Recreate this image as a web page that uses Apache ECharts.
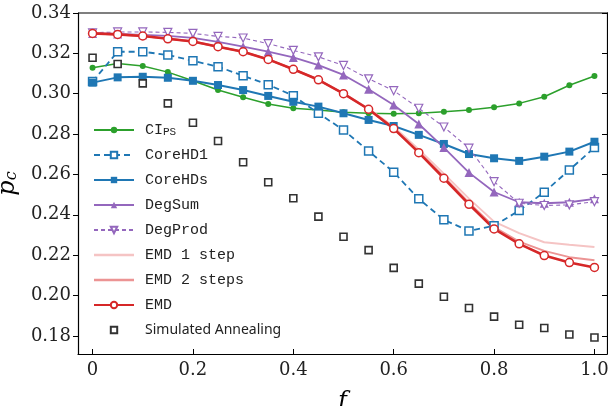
<!DOCTYPE html>
<html>
<head>
<meta charset="utf-8">
<script src="https://cdn.jsdelivr.net/npm/echarts@6/dist/echarts.min.js"></script>
<style>html,body{margin:0;padding:0;background:#fff}#c{width:608px;height:406px}</style>
</head>
<body>
<div id="c"></div>
<script>
var fValues = [0,0.05,0.1,0.15,0.2,0.25,0.3,0.35,0.4,0.45,0.5,0.55,0.6,0.65,0.7,0.75,0.8,0.85,0.9,0.95,1.0];
var xTicks = [0,0.2,0.4,0.6,0.8,1.0];
var yTicks = [0.18,0.20,0.22,0.24,0.26,0.28,0.30,0.32,0.34];

var ciPS     = [0.3129,0.3150,0.3137,0.3107,0.3064,0.3018,0.2982,0.2949,0.2928,0.2919,0.2908,0.2903,0.2901,0.2903,0.2911,0.2919,0.2933,0.2952,0.2985,0.3042,0.3088];
var coreHD1  = [0.3060,0.3208,0.3208,0.3192,0.3163,0.3134,0.3089,0.3045,0.2990,0.2903,0.2820,0.2716,0.2611,0.2479,0.2375,0.2320,0.2345,0.2421,0.2512,0.2622,0.2733];
var coreHDs  = [0.3055,0.3081,0.3084,0.3079,0.3064,0.3043,0.3018,0.2989,0.2960,0.2936,0.2903,0.2870,0.2840,0.2796,0.2751,0.2701,0.2680,0.2667,0.2688,0.2713,0.2762];
var degSum   = [0.3299,0.3296,0.3292,0.3287,0.3277,0.3257,0.3233,0.3208,0.3180,0.3142,0.3093,0.3022,0.2944,0.2850,0.2733,0.2609,0.2513,0.2462,0.2457,0.2462,0.2479];
var degProd  = [0.3302,0.3306,0.3306,0.3304,0.3299,0.3284,0.3276,0.3248,0.3215,0.3183,0.3140,0.3074,0.3015,0.2928,0.2835,0.2730,0.2564,0.2457,0.2446,0.2449,0.2465];
var emd1     = [0.3299,0.3294,0.3286,0.3272,0.3259,0.3233,0.3208,0.3170,0.3121,0.3070,0.3002,0.2926,0.2836,0.2724,0.2604,0.2480,0.2366,0.2309,0.2264,0.2251,0.2240];
var emd2     = [0.3299,0.3294,0.3286,0.3272,0.3259,0.3233,0.3208,0.3170,0.3121,0.3069,0.3000,0.2924,0.2830,0.2712,0.2587,0.2460,0.2339,0.2267,0.2221,0.2190,0.2175];
var emd      = [0.3299,0.3294,0.3286,0.3272,0.3259,0.3233,0.3208,0.3170,0.3121,0.3069,0.3000,0.2923,0.2827,0.2708,0.2581,0.2452,0.2330,0.2256,0.2198,0.2163,0.2139];
var simAnn   = [0.3178,0.3147,0.3051,0.2952,0.2856,0.2766,0.2660,0.2561,0.2482,0.2391,0.2291,0.2225,0.2137,0.2059,0.1994,0.1938,0.1895,0.1855,0.1839,0.1807,0.1792];

function pairs(arr){ return fValues.map(function(f,i){ return [f, arr[i]]; }); }

var chart = echarts.init(document.getElementById('c'));
var serif = '"DejaVu Serif", "Liberation Serif", serif';
var mono = '"Liberation Mono", "DejaVu Sans Mono", monospace';

var series = [
  {name:'CIPS', type:'line', data:pairs(ciPS), symbol:'circle', symbolSize:6,
   lineStyle:{color:'#2ca02c', width:1.5}, itemStyle:{color:'#2ca02c'}},
  {name:'CoreHD1', type:'line', data:pairs(coreHD1), symbol:'rect', symbolSize:8,
   lineStyle:{color:'#1f77b4', width:1.8, type:[6,4]}, itemStyle:{color:'#ffffff', borderColor:'#1f77b4', borderWidth:1.5}},
  {name:'CoreHDs', type:'line', data:pairs(coreHDs), symbol:'rect', symbolSize:8,
   lineStyle:{color:'#1f77b4', width:2}, itemStyle:{color:'#1f77b4'}},
  {name:'DegSum', type:'line', data:pairs(degSum), symbol:'triangle', symbolSize:9,
   lineStyle:{color:'#9467bd', width:1.8}, itemStyle:{color:'#9467bd'}},
  {name:'DegProd', type:'line', data:pairs(degProd), symbol:'triangle', symbolRotate:180, symbolSize:8,
   lineStyle:{color:'#9467bd', width:1.1, type:[4,3]}, itemStyle:{color:'#ffffff', borderColor:'#9467bd', borderWidth:1.2}},
  {name:'EMD 1 step', type:'line', data:pairs(emd1), symbol:'none',
   lineStyle:{color:'#f5c4c4', width:2}, itemStyle:{color:'#f5c4c4'}},
  {name:'EMD 2 steps', type:'line', data:pairs(emd2), symbol:'none',
   lineStyle:{color:'#ec9494', width:2}, itemStyle:{color:'#ec9494'}},
  {name:'EMD', type:'line', data:pairs(emd), symbol:'circle', symbolSize:8,
   lineStyle:{color:'#d62728', width:2.6}, itemStyle:{color:'#ffffff', borderColor:'#d62728', borderWidth:1.5}},
  {name:'Simulated Annealing', type:'line', data:pairs(simAnn), symbol:'rect', symbolSize:7,
   lineStyle:{opacity:0, width:0}, itemStyle:{color:'#ffffff', borderColor:'#333333', borderWidth:1.6}}
];
series.forEach(function(s){ s.animation=false; s.emphasis={disabled:true}; s.silent=true; });

var legendData = series.map(function(s){
  if (s.symbol === 'none') {
    return {name:s.name, icon:'path://M0,0H40V2.5H0Z', itemStyle:{color:s.lineStyle.color, borderWidth:0}};
  }
  return {name:s.name};
});

chart.setOption({
  animation:false,
  grid:{left:78, right:1, top:13, bottom:52, containLabel:false, outerBoundsMode:'none'},
  xAxis:{type:'value', min:-0.029, max:1.025,
    name:'f', nameLocation:'middle', nameGap:36,
    nameTextStyle:{fontFamily:serif, fontStyle:'italic', fontSize:24, color:'#000'},
    axisLine:{show:true, onZero:false, lineStyle:{color:'#000', width:1.2}},
    axisTick:{show:true, inside:true, length:5, customValues:xTicks, lineStyle:{color:'#000'}},
    axisLabel:{customValues:xTicks, margin:7, fontFamily:serif, fontSize:18, color:'#222',
      formatter:function(v){ return v===0 ? '0' : v.toFixed(1); }},
    splitLine:{show:false}},
  yAxis:[{type:'value', min:0.171, max:0.34,
    name:'{p|p}{c|c}', nameLocation:'middle', nameGap:50, nameRotate:90,
    nameTextStyle:{rich:{p:{fontFamily:serif, fontStyle:'italic', fontSize:24, color:'#000'},
                        c:{fontFamily:serif, fontStyle:'italic', fontSize:16, color:'#000', verticalAlign:'bottom', padding:[8,0,0,0]}}},
    axisLine:{show:true, onZero:false, lineStyle:{color:'#000', width:1.2}},
    axisTick:{show:true, inside:false, length:5, customValues:yTicks, lineStyle:{color:'#000'}},
    axisLabel:{customValues:yTicks, margin:7, fontFamily:serif, fontSize:18, color:'#222',
      formatter:function(v){ return v.toFixed(2); }},
    splitLine:{show:false}},
   {type:'value', min:0.171, max:0.34, position:'right',
    axisLine:{show:true, onZero:false, lineStyle:{color:'#000', width:1.2}},
    axisTick:{show:true, inside:true, length:5, customValues:yTicks, lineStyle:{color:'#000'}},
    axisLabel:{show:false}, splitLine:{show:false}}],
  graphic:[{type:'line', shape:{x1:78, y1:13, x2:608, y2:13}, style:{stroke:'#000', lineWidth:1.2}, silent:true}],
  legend:{orient:'vertical', left:88, top:117, itemWidth:40, itemHeight:8, itemGap:9,
    data:legendData,
    textStyle:{fontFamily:mono, fontSize:15, color:'#222', lineHeight:16, padding:[0,0,0,6],
      rich:{m:{fontFamily:mono, fontSize:15, color:'#222'},
            s:{fontFamily:mono, fontSize:11, color:'#222', verticalAlign:'bottom', padding:[6,0,0,0]},
            sa:{fontFamily:'"Noto Sans", "DejaVu Sans", sans-serif', fontSize:14, color:'#222'}}},
    formatter:function(n){
      if(n==='CIPS') return '{m|CI}{s|PS}';
      if(n==='Simulated Annealing') return '{sa|Simulated Annealing}';
      return '{m|'+n+'}';
    },
    selectedMode:false},
  series:series
});
</script>
</body>
</html>
